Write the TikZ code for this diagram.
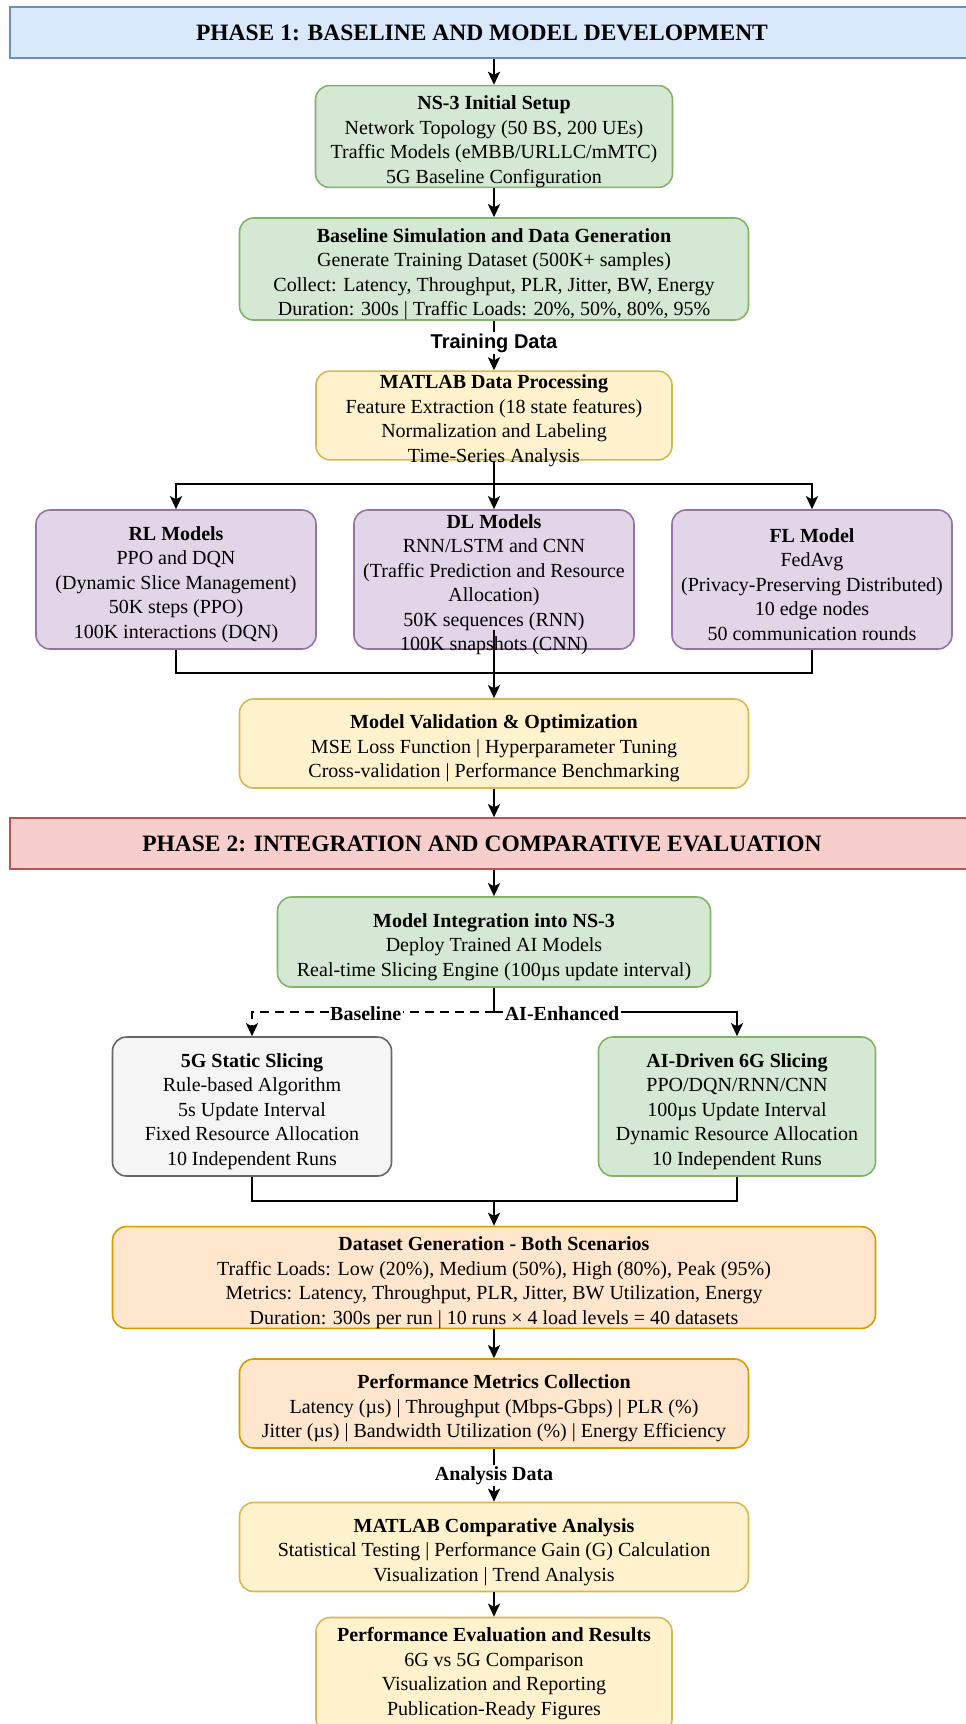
\documentclass[tikz,border=0pt]{standalone}
\usepackage{fontspec}
\setmainfont{Liberation Serif}
\newfontfamily\tagsans{Liberation Sans}
\usetikzlibrary{arrows.meta}

\definecolor{greenfill}{HTML}{D5E8D4}
\definecolor{greenedge}{HTML}{82B366}
\definecolor{yellowfill}{HTML}{FFF2CC}
\definecolor{yellowedge}{HTML}{D6B656}
\definecolor{purplefill}{HTML}{E1D5E7}
\definecolor{purpleedge}{HTML}{9673A6}
\definecolor{orangefill}{HTML}{FFE6CC}
\definecolor{orangeedge}{HTML}{D79B00}
\definecolor{grayfill}{HTML}{F5F5F5}
\definecolor{grayedge}{HTML}{666666}
\definecolor{bluefill}{HTML}{DAE8FC}
\definecolor{blueedge}{HTML}{6C8EBF}
\definecolor{redfill}{HTML}{F8CECC}
\definecolor{rededge}{HTML}{B85450}

% box heading, with a strut that pushes the lines down a little
\newcommand{\boxtitle}[1]{\rule{0pt}{24pt}\textbf{#1}}

\begin{document}
\begin{tikzpicture}[x=1pt,y=-1pt,
  box/.style={rectangle,rounded corners=14pt,line width=1.6pt,align=center,inner xsep=4pt,inner ysep=0pt,font=\fontsize{20}{24.5}\selectfont},
  greenbox/.style={box,fill=greenfill,draw=greenedge},
  yellowbox/.style={box,fill=yellowfill,draw=yellowedge},
  purplebox/.style={box,fill=purplefill,draw=purpleedge,minimum width=280pt,minimum height=139pt},
  orangebox/.style={box,fill=orangefill,draw=orangeedge},
  graybox/.style={box,fill=grayfill,draw=grayedge},
  banner/.style={rectangle,line width=1.6pt,minimum width=985pt,minimum height=51pt,inner sep=0pt},
  phase/.style={inner sep=0pt,font=\bfseries\fontsize{23.5}{28}\selectfont},
  line/.style={line width=2.2pt},
  conn/.style={line width=2.2pt,-{Stealth[length=13pt,width=12pt,inset=3pt]}},
  tag/.style={fill=white,inner sep=1.5pt,font=\bfseries\fontsize{20}{24}\selectfont},
  datatag/.style={fill=white,inner sep=1.5pt,font=\tagsans\bfseries\fontsize{20}{24}\selectfont}]
\def\midX{494}
\useasboundingbox (0,0) rectangle (966,1724);

% phase 1
\node[banner,fill=bluefill,draw=blueedge] (P1) at (502.5,32.5) {};
\node[phase] (P1text) at (482,33) {PHASE 1: BASELINE AND MODEL DEVELOPMENT};

\node[greenbox,minimum width=357pt,minimum height=101pt] (NS3) at (\midX,136.5)
  {\boxtitle{NS-3 Initial Setup}\\Network Topology (50 BS, 200 UEs)\\Traffic Models (eMBB/URLLC/mMTC)\\5G Baseline Configuration};
\node[greenbox,minimum width=509pt,minimum height=102pt] (BSG) at (\midX,269)
  {\boxtitle{Baseline Simulation and Data Generation}\\Generate Training Dataset (500K+ samples)\\Collect: Latency, Throughput, PLR, Jitter, BW, Energy\\Duration: 300s | Traffic Loads: 20\%, 50\%, 80\%, 95\%};
\node[yellowbox,minimum width=356pt,inner ysep=-6.5pt] (MDP) at (\midX,415.5)
  {\boxtitle{MATLAB Data Processing}\\Feature Extraction (18 state features)\\Normalization and Labeling\\Time-Series Analysis};

\node[purplebox] (RL) at (176,579.5)
  {\boxtitle{RL Models}\\PPO and DQN\\(Dynamic Slice Management)\\50K steps (PPO)\\100K interactions (DQN)};
\node[purplebox,inner ysep=-6pt] (DL) at (\midX,579.5)
  {\boxtitle{DL Models}\\RNN/LSTM and CNN\\(Traffic Prediction and Resource\\Allocation)\\50K sequences (RNN)\\100K snapshots (CNN)};
\node[purplebox] (FL) at (812,579.5)
  {\boxtitle{FL Model}\\FedAvg\\(Privacy-Preserving Distributed)\\10 edge nodes\\50 communication rounds};

\node[yellowbox,minimum width=509pt,minimum height=89pt] (MV) at (\midX,743.5)
  {\boxtitle{Model Validation \& Optimization}\\MSE Loss Function | Hyperparameter Tuning\\Cross-validation | Performance Benchmarking};

% phase 2
\node[banner,fill=redfill,draw=rededge] (P2) at (502.5,843.5) {};
\node[phase] (P2text) at (482,844) {PHASE 2: INTEGRATION AND COMPARATIVE EVALUATION};

\node[greenbox,minimum width=433pt,minimum height=90pt] (MI) at (\midX,942)
  {\boxtitle{Model Integration into NS-3}\\Deploy Trained AI Models\\Real-time Slicing Engine (100µs update interval)};
\node[graybox,minimum width=279pt,minimum height=139pt] (S5) at (252,1106.5)
  {\boxtitle{5G Static Slicing}\\Rule-based Algorithm\\5s Update Interval\\Fixed Resource Allocation\\10 Independent Runs};
\node[greenbox,minimum width=277pt,minimum height=139pt] (S6) at (737,1106.5)
  {\boxtitle{AI-Driven 6G Slicing}\\PPO/DQN/RNN/CNN\\100µs Update Interval\\Dynamic Resource Allocation\\10 Independent Runs};
\node[orangebox,minimum width=763pt,minimum height=101pt] (DG) at (\midX,1277.5)
  {\boxtitle{Dataset Generation - Both Scenarios}\\Traffic Loads: Low (20\%), Medium (50\%), High (80\%), Peak (95\%)\\Metrics: Latency, Throughput, PLR, Jitter, BW Utilization, Energy\\Duration: 300s per run | 10 runs × 4 load levels = 40 datasets};
\node[orangebox,minimum width=509pt,minimum height=89pt] (PM) at (\midX,1403.5)
  {\boxtitle{Performance Metrics Collection}\\Latency (µs) | Throughput (Mbps-Gbps) | PLR (\%)\\Jitter (µs) | Bandwidth Utilization (\%) | Energy Efficiency};
\node[yellowbox,minimum width=509pt,minimum height=89pt] (MC) at (\midX,1547)
  {\boxtitle{MATLAB Comparative Analysis}\\Statistical Testing | Performance Gain (G) Calculation\\Visualization | Trend Analysis};
% runs past the lower page edge
\node[yellowbox,minimum width=356pt] (PE) at (\midX,1675.25)
  {\boxtitle{Performance Evaluation and Results}\\6G vs 5G Comparison\\Visualization and Reporting\\Publication-Ready Figures\rule[-18pt]{0pt}{18pt}};

% connectors
\coordinate (split) at (\midX,484);
\coordinate (merge) at (\midX,673);
\coordinate (fork) at (\midX,1012);
\coordinate (merge2) at (\midX,1201);

\draw[conn] (NS3.north |- P1.south) -- (NS3.north);
\draw[conn] (NS3.south) -- (BSG.north);
\draw[conn] (BSG.south) -- node[datatag,pos=0.45] (train) {Training Data} (MDP.north);
\draw[line] (MDP.south) -- (split);
\draw[conn] (split) -| (RL.north);
\draw[conn] (split) -- (DL.north);
\draw[conn] (split) -| (FL.north);
\draw[line] (RL.south) |- (merge) -| (FL.south);
\draw[conn] ([yshift=20pt]DL.south) -- (MV.north);
\draw[conn] (MV.south) -- (MV.south |- P2.north);
\draw[conn] (MI.north |- P2.south) -- (MI.north);
\draw[line] (MI.south) -- (fork);
\draw[conn,dash pattern=on 9pt off 6pt] (fork) -| node[tag,pos=0.265,yshift=-2pt] (base) {Baseline} (S5.north);
\draw[conn] (fork) -| node[tag,pos=0.14,yshift=-2pt] (aienh) {AI-Enhanced} (S6.north);
\draw[line] (S5.south) |- (merge2) -| (S6.south);
\draw[conn] (merge2) -- (DG.north);
\draw[conn] (DG.south) -- (PM.north);
\draw[conn] (PM.south) -- node[tag] (anal) {Analysis Data} (MC.north);
\draw[conn] (MC.south) -- (PE.north);
\end{tikzpicture}
\end{document}
